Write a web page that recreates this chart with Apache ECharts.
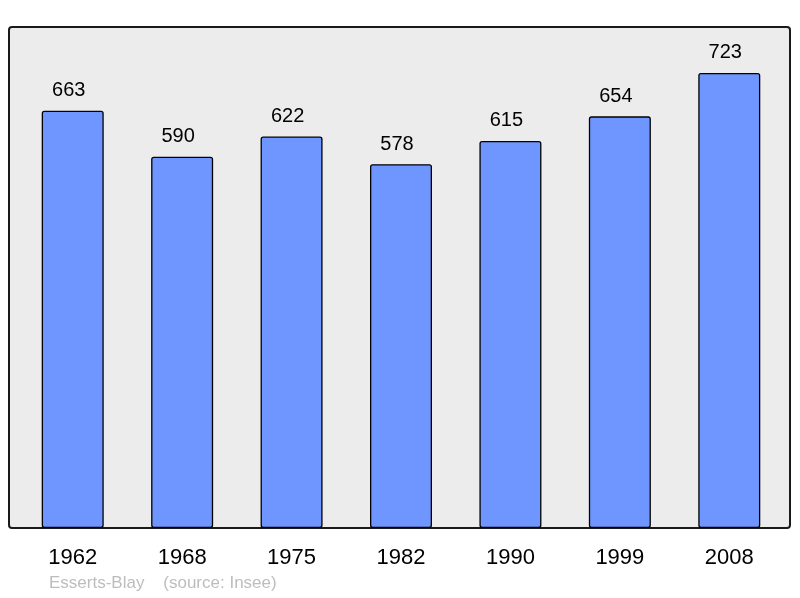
<!DOCTYPE html>
<html>
<head>
<meta charset="utf-8">
<script src="https://cdn.jsdelivr.net/npm/echarts@6/dist/echarts.min.js"></script>
<style>
  html, body { margin: 0; padding: 0; background: #fff; }
  #main { width: 800px; height: 598px; }
</style>
</head>
<body>
<div id="main"></div>
<script>
const years = ["1962", "1968", "1975", "1982", "1990", "1999", "2008"];
const population = [663, 590, 622, 578, 615, 654, 723];

const chart = echarts.init(document.getElementById("main"));

const option = {
  animation: false,
  backgroundColor: "#fff",
  textStyle: { fontFamily: "Liberation Sans, Arial, sans-serif" },
  graphic: [
    {
      type: "rect",
      z: -10,
      shape: { x: 9, y: 27, width: 781, height: 501, r: 3 },
      style: { fill: "#ececec", stroke: "#1a1a1a", lineWidth: 2 }
    },
    {
      type: "text",
      left: 49,
      top: 575,
      style: {
        text: "Esserts-Blay    (source: Insee)",
        fill: "#bdbdbd",
        font: "17px Liberation Sans, Arial, sans-serif"
      }
    }
  ],
  grid: { left: 18, right: 16, top: 27, bottom: 70 },
  xAxis: {
    type: "category",
    data: years,
    axisLine: { show: false },
    axisTick: { show: false },
    axisLabel: { color: "#000", fontSize: 22, margin: 19 }
  },
  yAxis: {
    type: "value",
    min: 0,
    max: 796,
    show: false,
    splitLine: { show: false }
  },
  series: [
    {
      type: "bar",
      data: population,
      barWidth: 62,
      itemStyle: {
        color: "#6f96ff",
        borderColor: "#000",
        borderWidth: 1.3,
        borderRadius: 2
      },
      label: {
        show: true,
        position: "top",
        distance: 10,
        offset: [-4, 0],
        color: "#000",
        fontSize: 20
      }
    }
  ]
};

chart.setOption(option);
</script>
</body>
</html>
